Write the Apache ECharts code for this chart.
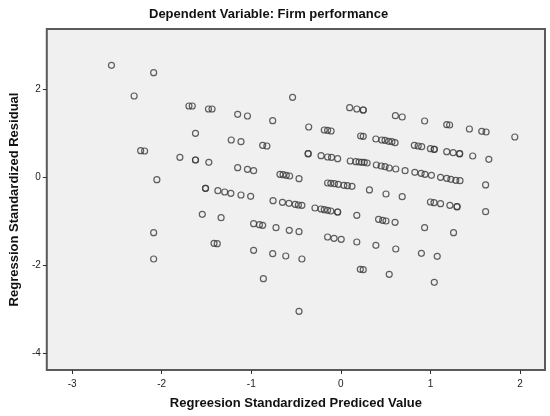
<!DOCTYPE html>
<html>
<head>
<meta charset="utf-8">
<script src="https://cdn.jsdelivr.net/npm/echarts@6/dist/echarts.min.js"></script>
<style>
html,body{margin:0;padding:0;background:#fff;}
#chart{width:550px;height:416px;}
</style>
</head>
<body>
<div id="chart"></div>
<script>
// Regression standardized predicted value (x) and residual (y)
const predictedValues = [
  -2.561,-2.090,-2.308,-1.696,-1.659,-1.478,-1.438,-1.623,-2.235,-2.191,-1.797,-1.623,-1.623,-1.474,-2.054,
  -1.152,-1.043,-0.761,-0.539,0.098,0.178,0.250,0.250,-0.359,-0.185,-0.148,-0.109,0.221,0.250,
  -1.224,-1.115,-0.873,-0.826,-0.365,-0.365,-0.221,-0.148,-0.104,-0.036,
  0.105,0.167,0.203,0.233,0.261,0.293,-1.152,-1.043,-0.974,-0.680,-0.645,-0.609,-0.572,-0.467,
  -0.148,-0.112,-0.072,-0.028,0.033,0.073,0.124,0.319,
  0.609,0.685,0.935,1.182,1.214,1.435,1.573,1.621,1.942,
  0.391,0.457,0.493,0.533,0.570,0.605,0.820,0.863,0.902,1.000,1.043,1.043,
  1.182,1.254,1.326,1.326,1.472,1.652,
  0.396,0.450,0.493,0.540,0.613,0.717,0.826,0.896,0.939,1.011,
  1.113,1.182,1.228,1.283,1.330,1.616,
  -1.511,-1.511,-1.547,-2.090,-1.416,-1.380,-2.090,-1.337,
  -1.373,-1.297,-1.228,-1.115,-1.007,
  -0.757,-0.652,-0.579,-0.510,-0.474,-0.435,
  -0.289,-0.221,-0.185,-0.148,-0.112,-0.036,-0.036,
  0.178,-0.974,-0.909,-0.873,-0.724,-0.576,-0.467,
  -0.148,-0.076,0.004,0.178,0.391,-0.974,-0.761,-0.615,-0.435,
  0.217,0.250,-0.865,-0.467,
  0.504,0.685,1.000,1.040,1.113,1.217,1.297,1.297,1.616,
  0.421,0.467,0.504,0.605,0.935,1.258,0.613,0.899,1.076,0.540,1.043
];
const residuals = [
  2.546,2.378,1.848,1.620,1.620,1.552,1.552,0.999,0.603,0.596,0.453,0.391,0.391,0.339,-0.057,
  1.431,1.392,1.286,1.818,1.581,1.552,1.529,1.529,1.142,1.074,1.067,1.051,0.937,0.930,
  0.846,0.808,0.726,0.710,0.535,0.535,0.489,0.460,0.453,0.421,
  0.369,0.353,0.346,0.339,0.339,0.323,0.216,0.180,0.148,0.066,0.057,0.043,0.027,-0.034,
  -0.132,-0.139,-0.148,-0.162,-0.184,-0.193,-0.207,-0.290,
  1.399,1.370,1.279,1.195,1.188,1.097,1.044,1.028,0.915,
  0.869,0.846,0.839,0.817,0.808,0.785,0.726,0.710,0.694,0.648,0.635,0.635,
  0.580,0.557,0.535,0.535,0.482,0.407,
  0.278,0.255,0.239,0.209,0.187,0.148,0.111,0.089,0.066,0.043,
  -0.002,-0.025,-0.048,-0.071,-0.080,-0.177,
  -0.253,-0.253,-0.845,-1.262,-1.504,-1.513,-1.861,-0.921,
  -0.307,-0.337,-0.366,-0.405,-0.435,
  -0.535,-0.571,-0.594,-0.617,-0.633,-0.639,
  -0.701,-0.724,-0.739,-0.753,-0.769,-0.792,-0.792,
  -0.868,-1.058,-1.081,-1.095,-1.148,-1.209,-1.240,
  -1.361,-1.390,-1.413,-1.474,-1.550,-1.663,-1.741,-1.793,-1.861,
  -2.096,-2.105,-2.309,-3.051,
  -0.382,-0.443,-0.564,-0.580,-0.603,-0.640,-0.671,-0.671,-0.785,
  -0.959,-0.982,-0.997,-1.027,-1.148,-1.262,-1.634,-1.733,-1.801,-2.210,-2.392
];
const xTicks = [-3,-2,-1,0,1,2];
const yTicks = [-4,-2,0,2];
const titleText = 'Dependent Variable: Firm performance';
const xAxisTitle = 'Regreesion Standardized Prediced Value';
const yAxisTitle = 'Regression Standardized Residual';

const points = predictedValues.map((x, i) => [x, residuals[i]]);
const font = 'Liberation Sans, Arial, sans-serif';

const chart = echarts.init(document.getElementById('chart'), null, {renderer: 'canvas'});
chart.setOption({
  animation: false,
  backgroundColor: '#ffffff',
  title: {
    text: titleText,
    left: 144,
    top: 3,
    textStyle: {fontFamily: font, fontSize: 13, fontWeight: 'bold', color: '#111'}
  },
  grid: {
    left: 33, right: 5, top: 29, bottom: 46,
    show: true,
    backgroundColor: '#f0f0f0',
    borderColor: '#5a5a5a',
    borderWidth: 2
  },
  xAxis: {
    type: 'value',
    min: -3.283, max: 2.279,
    name: xAxisTitle,
    nameLocation: 'middle',
    nameGap: 27,
    nameTextStyle: {fontFamily: font, fontSize: 13, fontWeight: 'bold', color: '#111'},
    axisLine: {show: false, onZero: false},
    splitLine: {show: false},
    axisTick: {show: true, customValues: xTicks, length: 4, lineStyle: {color: '#333', width: 1}},
    axisLabel: {customValues: xTicks, margin: 9, fontFamily: font, fontSize: 10, color: '#222'}
  },
  yAxis: {
    type: 'value',
    min: -4.387, max: 3.372,
    name: yAxisTitle,
    nameLocation: 'middle',
    nameGap: 16,
    nameTextStyle: {fontFamily: font, fontSize: 13, fontWeight: 'bold', color: '#111'},
    axisLine: {show: false, onZero: false},
    splitLine: {show: false},
    axisTick: {show: true, customValues: yTicks, length: 4, lineStyle: {color: '#333', width: 1}},
    axisLabel: {customValues: yTicks, margin: 6, fontFamily: font, fontSize: 10, color: '#222'}
  },
  series: [{
    type: 'scatter',
    data: points,
    symbol: 'circle',
    symbolSize: 6,
    itemStyle: {color: 'rgba(0,0,0,0)', borderColor: '#3a3a3a', borderWidth: 1.2},
    emphasis: {disabled: true}
  }]
});
</script>
</body>
</html>
